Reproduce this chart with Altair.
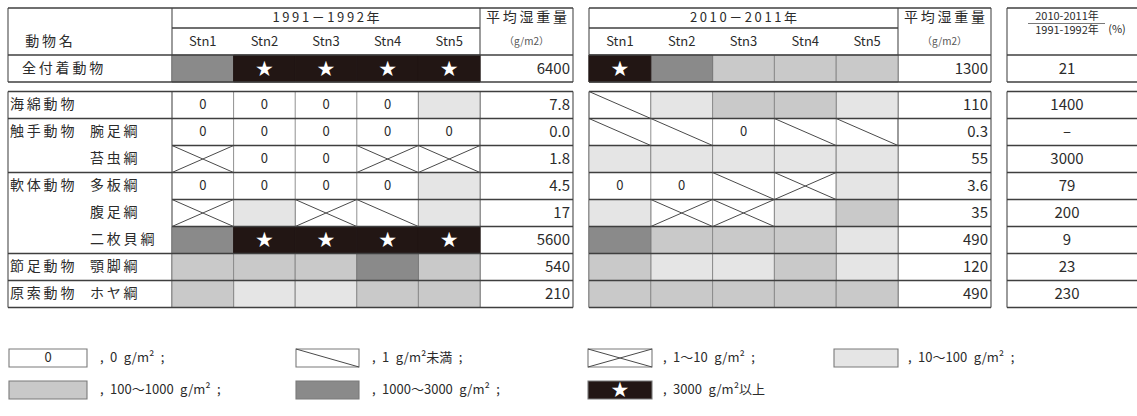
import altair as alt
import pandas as pd

W, H = 1137, 416
FONT = "Noto Sans CJK JP"

# ---------------------------------------------------------------- data
stations = ["Stn1", "Stn2", "Stn3", "Stn4", "Stn5"]
phylum = ["全付着動物", "海綿動物", "触手動物", "", "軟体動物", "", "", "節足動物", "原索動物"]
klass = ["", "", "腕足綱", "苔虫綱", "多板綱", "腹足綱", "二枚貝綱", "顎脚綱", "ホヤ綱"]

# wet-weight grade per station (g/m2)
grade_1991 = [
    ["1000-3000", "3000+", "3000+", "3000+", "3000+"],
    ["0", "0", "0", "0", "10-100"],
    ["0", "0", "0", "0", "0"],
    ["1-10", "0", "0", "1-10", "1-10"],
    ["0", "0", "0", "0", "10-100"],
    ["1-10", "10-100", "1-10", "<1", "10-100"],
    ["1000-3000", "3000+", "3000+", "3000+", "3000+"],
    ["100-1000", "100-1000", "100-1000", "1000-3000", "100-1000"],
    ["100-1000", "10-100", "10-100", "100-1000", "100-1000"],
]
avg_1991 = ["6400", "7.8", "0.0", "1.8", "4.5", "17", "5600", "540", "210"]

grade_2010 = [
    ["3000+", "1000-3000", "100-1000", "100-1000", "100-1000"],
    ["<1", "10-100", "100-1000", "100-1000", "10-100"],
    ["<1", "<1", "0", "<1", "<1"],
    ["10-100", "10-100", "10-100", "10-100", "10-100"],
    ["0", "0", "<1", "1-10", "10-100"],
    ["10-100", "1-10", "1-10", "10-100", "100-1000"],
    ["1000-3000", "100-1000", "100-1000", "100-1000", "10-100"],
    ["100-1000", "10-100", "10-100", "100-1000", "10-100"],
    ["100-1000", "100-1000", "100-1000", "100-1000", "100-1000"],
]
avg_2010 = ["1300", "110", "0.3", "55", "3.6", "35", "490", "120", "490"]
ratio_pct = ["21", "1400", "–", "3000", "79", "200", "9", "23", "230"]

grades = ["0", "<1", "1-10", "10-100", "100-1000", "1000-3000", "3000+"]
SP = "\u2002"
grade_text = [
    f",{SP}0{SP}g/m²{SP};",
    f",{SP}1{SP}g/m²未満{SP};",
    f",{SP}1〜10{SP}g/m²{SP};",
    f",{SP}10〜100{SP}g/m²{SP};",
    f",{SP}100〜1000{SP}g/m²{SP};",
    f",{SP}1000〜3000{SP}g/m²{SP};",
    f",{SP}3000{SP}g/m²以上",
]

# ---------------------------------------------------------------- styles
FILL = {"0": "#ffffff", "<1": "#ffffff", "1-10": "#ffffff", "10-100": "#e5e5e5",
        "100-1000": "#c9c9c9", "1000-3000": "#8a8a8a", "3000+": "#221614"}
EDGE = {"10-100": "#8c8c8c", "100-1000": "#8c8c8c", "1000-3000": "#7a7a7a", "3000+": "#221614"}
INK = "#2b2b2b"

# ---------------------------------------------------------------- layout
T1_NAME = (8, 172)
T1_STN = [172, 233.6, 295.2, 356.8, 418.4, 480]
T1_AVG = (480, 573)
T2_STN = [589, 650.8, 712.6, 774.4, 836.2, 898]
T2_AVG = (898, 991)
T3 = (1007, 1137)
HEAD_TOP, HEAD_MID, HEAD_BOT = 8, 28, 55
TOTAL_ROW = (55, 82)
BODY_TOP, ROW_H = 91.5, 27.0
LEG_X = [(9, 87), (296, 359), (588, 652), (834, 898)]
LEG_TX = [100, 372, 663, 908]
LEG_Y = [(349, 367), (381, 399)]
LEG_SLOT = [(0, 0), (0, 1), (0, 2), (0, 3), (1, 0), (1, 1), (1, 2)]


def row_span(i):
    if i == 0:
        return TOTAL_ROW
    y0 = BODY_TOP + (i - 1) * ROW_H
    return (y0, y0 + ROW_H)


def spaced(s, gap="\u2009"):
    return gap.join(s)


def mid(a, b):
    return (a + b) / 2


# ---------------------------------------------------------------- cells
cells = []
for table, edges in ((grade_1991, T1_STN), (grade_2010, T2_STN)):
    for i, row in enumerate(table):
        y0, y1 = row_span(i)
        for j, g in enumerate(row):
            cells.append(dict(x0=edges[j], x1=edges[j + 1], y0=y0, y1=y1, cls=g, part="table"))
for k, g in enumerate(grades):
    r, c = LEG_SLOT[k]
    (x0, x1), (y0, y1) = LEG_X[c], LEG_Y[r]
    cells.append(dict(x0=x0, x1=x1, y0=y0, y1=y1, cls=g, part="legend"))
cells = pd.DataFrame(cells)
cells["xc"] = (cells["x0"] + cells["x1"]) / 2
cells["yc"] = (cells["y0"] + cells["y1"]) / 2

# diagonal strokes: "<1" one falling line, "1-10" a cross
diag = []
for r in cells.itertuples():
    if r.cls in ("<1", "1-10"):
        diag.append(dict(x0=r.x0, y0=r.y0, x1=r.x1, y1=r.y1))
    if r.cls == "1-10":
        diag.append(dict(x0=r.x0, y0=r.y1, x1=r.x1, y1=r.y0))
diag = pd.DataFrame(diag)

# ---------------------------------------------------------------- grid lines
lines = []


def hline(y, x0, x1, kind="h"):
    lines.append(dict(x0=x0, x1=x1, y0=y, y1=y, kind=kind))


def vline(x, y0, y1, kind="v"):
    lines.append(dict(x0=x, x1=x, y0=y0, y1=y1, kind=kind))


n = len(phylum)
body_bot = row_span(n - 1)[1]
# 1991 table
for y in (HEAD_TOP, HEAD_BOT, TOTAL_ROW[1], BODY_TOP, body_bot):
    hline(y, T1_NAME[0], T1_AVG[1])
hline(HEAD_MID, T1_STN[0], T1_STN[-1])
for i in range(1, n - 1):
    y = row_span(i)[1]
    full = phylum[i + 1] != ""
    hline(y, T1_NAME[0] if full else T1_NAME[1], T1_AVG[1])
for x in (T1_NAME[0], T1_NAME[1], T1_AVG[0], T1_AVG[1]):
    vline(x, HEAD_TOP, TOTAL_ROW[1])
    vline(x, BODY_TOP, body_bot)
for x in T1_STN[1:-1]:
    vline(x, HEAD_BOT, TOTAL_ROW[1], "vi")
    vline(x, BODY_TOP, body_bot, "vi")
# 2010 table
for y in (HEAD_TOP, HEAD_BOT, TOTAL_ROW[1], BODY_TOP, body_bot):
    hline(y, T2_STN[0], T2_AVG[1])
hline(HEAD_MID, T2_STN[0], T2_STN[-1])
for i in range(1, n - 1):
    hline(row_span(i)[1], T2_STN[0], T2_AVG[1])
for x in (T2_STN[0], T2_AVG[0], T2_AVG[1]):
    vline(x, HEAD_TOP, TOTAL_ROW[1])
    vline(x, BODY_TOP, body_bot)
for x in T2_STN[1:-1]:
    vline(x, HEAD_BOT, TOTAL_ROW[1], "vi")
    vline(x, BODY_TOP, body_bot, "vi")
# ratio table
for y in (HEAD_TOP, HEAD_BOT, TOTAL_ROW[1], BODY_TOP, body_bot):
    hline(y, T3[0], T3[1])
for i in range(1, n - 1):
    hline(row_span(i)[1], T3[0], T3[1])
vline(T3[0], HEAD_TOP, TOTAL_ROW[1])
vline(T3[0], BODY_TOP, body_bot)
# fraction bar in the ratio header
hline(23.5, 1028, 1105, "f")
lines = pd.DataFrame(lines)

# ---------------------------------------------------------------- labels
labels = []


def lab(text, x, y, fs=13, anchor="center", color=INK):
    labels.append(dict(label=text, x=x, y=y, fs=fs, anchor=anchor, col=color))


lab(spaced("動物名"), 49, mid(HEAD_MID, HEAD_BOT), 14)
for yrs, edges, avg in (("1991－1992年", T1_STN, T1_AVG), ("2010－2011年", T2_STN, T2_AVG)):
    lab(spaced(yrs), mid(edges[0], edges[-1]), mid(HEAD_TOP, HEAD_MID), 13)
    for j, s in enumerate(stations):
        lab(s, mid(edges[j], edges[j + 1]), mid(HEAD_MID, HEAD_BOT), 13)
    lab(spaced("平均湿重量"), mid(*avg), mid(HEAD_TOP, HEAD_MID), 14)
    lab("（g/m2）", mid(*avg), mid(HEAD_MID, HEAD_BOT), 10, color="#555555")
lab("2010-2011年", 1067, 16.5, 11)
lab("1991-1992年", 1067, 30.5, 11)
lab("(%)", 1117, 29.5, 11)

for i in range(n):
    yc = mid(*row_span(i))
    if i == 0:
        lab(spaced(phylum[i]), 22, yc, 14, "left")
    elif phylum[i]:
        lab(spaced(phylum[i]), 10, yc, 14, "left")
    if klass[i]:
        lab(spaced(klass[i]), 90, yc, 14, "left")
    lab(avg_1991[i], T1_AVG[1] - 3, yc, 15, "right")
    lab(avg_2010[i], T2_AVG[1] - 3, yc, 15, "right")
    lab(ratio_pct[i], 1067, yc, 15)

for k, t in enumerate(grade_text):
    r, c = LEG_SLOT[k]
    lab(t, LEG_TX[c], mid(*LEG_Y[r]), 13, "left")

labels = pd.DataFrame(labels)

# ---------------------------------------------------------------- chart
XS = alt.Scale(domain=[0, W], nice=False, zero=False)
YS = alt.Scale(domain=[0, H], nice=False, zero=False, reverse=True)


def seg_enc(chart):
    return chart.encode(
        x=alt.X("x0:Q", scale=XS, axis=None), x2="x1:Q",
        y=alt.Y("y0:Q", scale=YS, axis=None), y2="y1:Q",
    )


layers = []

# inner (light) and outer vertical lines, drawn under the shaded cells
for kind, colr, sw in (("vi", "#909090", 1.0), ("v", "#4a4a4a", 1.1)):
    layers.append(seg_enc(alt.Chart(lines[lines["kind"] == kind]).mark_rule(stroke=colr, strokeWidth=sw)))

# shaded cells of both tables
for g in ["10-100", "100-1000", "1000-3000", "3000+"]:
    sub = cells[(cells["part"] == "table") & (cells["cls"] == g)]
    layers.append(seg_enc(alt.Chart(sub).mark_rect(fill=FILL[g], stroke=EDGE[g], strokeWidth=1)))

# legend swatches
for g in grades:
    sub = cells[(cells["part"] == "legend") & (cells["cls"] == g)]
    layers.append(seg_enc(alt.Chart(sub).mark_rect(fill=FILL[g], stroke="#7a7a7a", strokeWidth=1.1)))

# horizontal rules on top
layers.append(seg_enc(alt.Chart(lines[lines["kind"] == "h"]).mark_rule(stroke="#3f3f3f", strokeWidth=1.3)))
layers.append(seg_enc(alt.Chart(lines[lines["kind"] == "f"]).mark_rule(stroke="#555555", strokeWidth=0.8)))

# "< 1" and "1-10" hatching
layers.append(seg_enc(alt.Chart(diag).mark_rule(stroke="#4a4a4a", strokeWidth=1.0)))

# zero markers and stars
layers.append(alt.Chart(cells[cells["cls"] == "0"]).mark_text(
    font=FONT, fontSize=13, color=INK, baseline="middle", text="0"
).encode(
    x=alt.X("xc:Q", scale=XS, axis=None), y=alt.Y("yc:Q", scale=YS, axis=None),
))
layers.append(alt.Chart(cells[cells["cls"] == "3000+"]).mark_text(
    font="DejaVu Sans", fontSize=21, color="white", baseline="middle", text="★", dy=1
).encode(
    x=alt.X("xc:Q", scale=XS, axis=None), y=alt.Y("yc:Q", scale=YS, axis=None),
))

# text labels grouped by style
for (anchor, fs, colr), sub in labels.groupby(["anchor", "fs", "col"]):
    layers.append(alt.Chart(sub.reset_index(drop=True)).mark_text(
        font=FONT, baseline="middle", align=anchor, fontSize=float(fs), color=colr
    ).encode(
        x=alt.X("x:Q", scale=XS, axis=None),
        y=alt.Y("y:Q", scale=YS, axis=None),
        text=alt.Text("label:N"),
    ))

chart = alt.layer(*layers).properties(
    width=W, height=H, padding=0, autosize=alt.AutoSizeParams(type="none"),
    background="white",
).configure_view(stroke=None)

chart.save("out.html", embed_options={"renderer": "svg", "actions": False})
